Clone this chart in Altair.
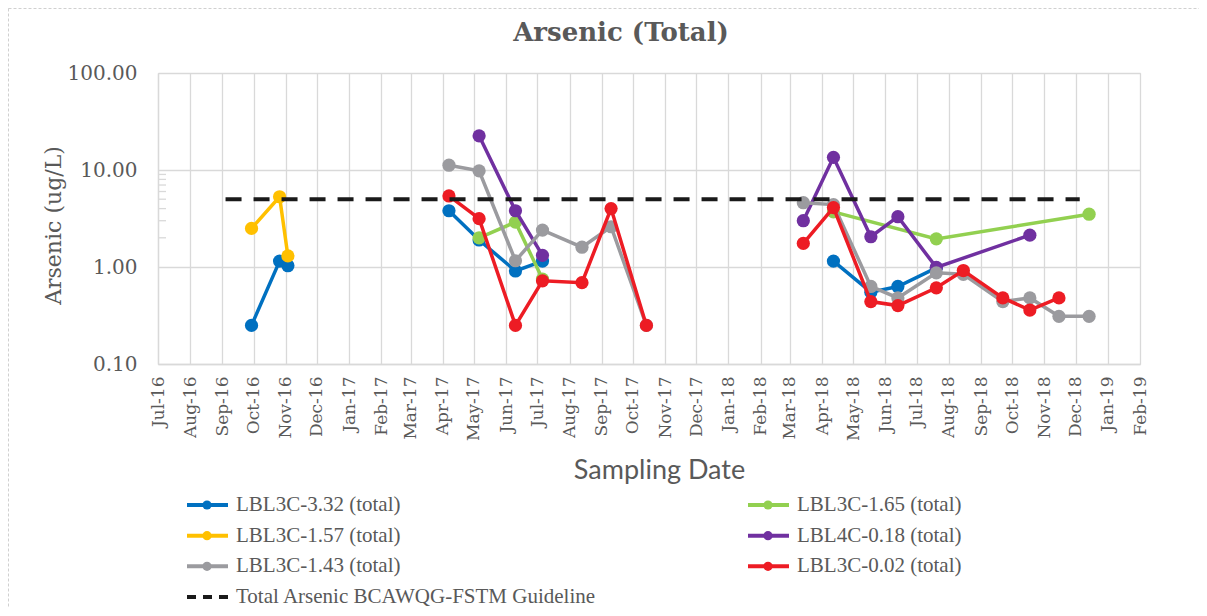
import altair as alt
import pandas as pd

# ---------------- data ----------------
names = ["LBL3C-3.32 (total)", "LBL3C-1.65 (total)", "LBL3C-1.57 (total)",
         "LBL4C-0.18 (total)", "LBL3C-1.43 (total)", "LBL3C-0.02 (total)"]
guide_name = "Total Arsenic BCAWQG-FSTM Guideline"
colors = ["#0070C0", "#92D050", "#FFC000", "#7030A0", "#9B9B9F", "#ED1C24"]

# None marks a break in the line (blank rows in the source sheet)
s332_dates = ["2016-09-29", "2016-10-26", "2016-11-03", None,
              "2017-04-07", "2017-05-06", "2017-06-10", "2017-07-06", None,
              "2018-04-12", "2018-05-18", "2018-06-13", "2018-07-20"]
s332_vals = [0.25, 1.15, 1.03, None,
             3.8, 1.9, 0.91, 1.15, None,
             1.15, 0.55, 0.63, 0.98]

s165_dates = ["2017-05-06", "2017-06-10", "2017-07-06", None,
              "2018-04-12", "2018-07-20", "2018-12-14"]
s165_vals = [2.0, 2.9, 0.75, None,
             3.7, 1.95, 3.5]

s157_dates = ["2016-09-29", "2016-10-26", "2016-11-03"]
s157_vals = [2.5, 5.3, 1.3]

s018_dates = ["2017-05-06", "2017-06-10", "2017-07-06", None,
              "2018-03-14", "2018-04-12", "2018-05-18", "2018-06-13", "2018-07-20", "2018-10-18"]
s018_vals = [22.5, 3.8, 1.32, None,
             3.0, 13.5, 2.05, 3.3, 0.99, 2.13]

s143_dates = ["2017-04-07", "2017-05-06", "2017-06-10", "2017-07-06", "2017-08-13", "2017-09-10", "2017-10-14", None,
              "2018-03-14", "2018-04-12", "2018-05-18", "2018-06-13", "2018-07-20", "2018-08-15",
              "2018-09-22", "2018-10-18", "2018-11-15", "2018-12-14"]
s143_vals = [11.2, 9.8, 1.16, 2.4, 1.6, 2.6, 0.25, None,
             4.6, 4.4, 0.63, 0.48, 0.87, 0.84,
             0.44, 0.48, 0.31, 0.31]

s002_dates = ["2017-04-07", "2017-05-06", "2017-06-10", "2017-07-06", "2017-08-13", "2017-09-10", "2017-10-14", None,
              "2018-03-14", "2018-04-12", "2018-05-18", "2018-06-13", "2018-07-20", "2018-08-15",
              "2018-09-22", "2018-10-18", "2018-11-15"]
s002_vals = [5.4, 3.15, 0.25, 0.72, 0.69, 4.0, 0.25, None,
             1.75, 4.1, 0.44, 0.40, 0.61, 0.92,
             0.48, 0.36, 0.48]

guide_dates = ["2016-09-04", "2018-12-05"]
guide_vals = [5.0, 5.0]

minor_ticks = [2, 3, 4, 5, 6, 7, 8, 9]
y_ticks = [0.1, 1, 10, 100]

series_dates = [s332_dates, s165_dates, s157_dates, s018_dates, s143_dates, s002_dates]
series_vals = [s332_vals, s165_vals, s157_vals, s018_vals, s143_vals, s002_vals]


def to_frame(name, dates, vals):
    rows, seg = [], 0
    for d, v in zip(dates, vals):
        if d is None or v is None:
            seg += 1
            continue
        rows.append({"series": name, "date": d + "T00:00:00", "value": v, "seg": seg})
    return pd.DataFrame(rows)


# ---------------- styling ----------------
GREY_TXT = "#595959"
GRID = "#d9d9d9"
SERIF = "DejaVu Serif"

x_enc = alt.X(
    "date:T",
    scale=alt.Scale(domain=[alt.DateTime(year=2016, month=7, date=1),
                            alt.DateTime(year=2019, month=2, date=1)]),
    axis=alt.Axis(
        title="Sampling Date", format="%b-%y",
        tickCount={"interval": "month", "step": 1},
        labelAngle=270, labelAlign="right", labelBaseline="middle",
        labelFont=SERIF, labelFontSize=17, labelColor=GREY_TXT, labelPadding=12,
        labelOverlap=False, labelFlush=False,
        ticks=False, grid=True, gridColor=GRID, gridWidth=1.3,
        domainColor=GRID, domainWidth=1.3,
        titleFont="Liberation Sans Narrow, Lato", titleFontSize=27, titleFontWeight="normal",
        titleColor=GREY_TXT, titleX=501, titleY=106,
        titleAlign="center", titleBaseline="middle",
    ),
)

y_scale = alt.Scale(type="log", domain=[0.1, 100])
y_axis = alt.Axis(
    title="Arsenic (ug/L)", values=y_ticks, format=".2f",
    labelFont=SERIF, labelFontSize=20, labelColor=GREY_TXT, labelPadding=21,
    ticks=False, grid=True, gridColor=GRID, gridWidth=1.3,
    domainColor=GRID, domainWidth=1.3,
    titleFont=SERIF, titleFontSize=22, titleFontWeight="normal", titleColor=GREY_TXT,
    titleAngle=270, titleX=-105, titleY=152,
    titleAlign="center", titleBaseline="middle",
)
y_enc = alt.Y("value:Q", scale=y_scale, axis=y_axis)

# ---------------- plot layers ----------------
layers = []

# faint dashed chart-area border (Excel chart frame)
frame = alt.Chart(pd.DataFrame({"k": [0]})).mark_rect(
    fill="transparent", stroke="#d0d0d0", strokeWidth=1, strokeDash=[3, 2]
).encode(x=alt.value(-149.5), x2=alt.value(1200), y=alt.value(-64.5), y2=alt.value(700))
layers.append(frame)

# minor ticks inside the 1-10 decade
minor = alt.Chart(pd.DataFrame({"value": minor_ticks})).mark_rule(
    color=GRID, strokeWidth=1.3
).encode(y=y_enc, x=alt.value(0), x2=alt.value(8))
layers.append(minor)

for name, col, ds, vs in zip(names, colors, series_dates, series_vals):
    df = to_frame(name, ds, vs)
    base = alt.Chart(df)
    layers.append(base.mark_line(strokeWidth=3.5, color=col).encode(x=x_enc, y=y_enc, detail="seg:N"))
    layers.append(base.mark_circle(size=175, opacity=1, color=col).encode(x=x_enc, y=y_enc))

gdf = to_frame(guide_name, guide_dates, guide_vals)
layers.append(alt.Chart(gdf).mark_line(strokeWidth=4, color="#1a1a1a", strokeDash=[16, 12]).encode(x=x_enc, y=y_enc))

main = alt.layer(*layers)

# ---------------- legend (two columns, Excel row-major order) ----------------
leg_names = names + [guide_name]
leg_colors = colors + ["#1a1a1a"]
leg_df = pd.DataFrame({
    "series": leg_names,
    "col": [i % 2 for i in range(len(leg_names))],
    "row": [i // 2 for i in range(len(leg_names))],
    "color": leg_colors,
})
lx = alt.X("col:Q", scale=alt.Scale(domain=[0, 1], range=[49, 610]), axis=None)
ly = alt.Y("row:Q", scale=alt.Scale(domain=[0, 3], range=[432, 524]), axis=None)
leg_base = alt.Chart(leg_df)
solid = leg_base.transform_filter(alt.datum.series != guide_name)
dashed = leg_base.transform_filter(alt.datum.series == guide_name)

leg_lines = solid.mark_rule(strokeWidth=4, xOffset=-20, x2Offset=21).encode(
    x=lx, x2="col:Q", y=ly, color=alt.Color("color:N", scale=None))
leg_pts = solid.mark_circle(size=85, opacity=1).encode(
    x=lx, y=ly, color=alt.Color("color:N", scale=None))
leg_dash = dashed.mark_rule(strokeWidth=4, xOffset=-20, x2Offset=21, strokeDash=[9, 7]).encode(
    x=lx, x2="col:Q", y=ly, color=alt.Color("color:N", scale=None))
leg_txt = leg_base.mark_text(align="left", baseline="middle", dx=29,
                             font="Liberation Serif", fontSize=21, color=GREY_TXT).encode(
    x=lx, y=ly, text="series:N")

legend = alt.layer(leg_lines, leg_pts, leg_dash, leg_txt)

chart = alt.layer(main, legend).resolve_scale(x="independent", y="independent").properties(
    width=982, height=291,
    title=alt.Title("Arsenic (Total)", font=SERIF, fontSize=26, fontWeight="bold",
                    color=GREY_TXT, anchor="middle", frame="group", dx=-28, offset=0, dy=38),
    autosize=alt.AutoSizeParams(type="none"),
    padding={"left": 150, "top": 65, "right": 59, "bottom": 244},
).configure_view(stroke=GRID, strokeWidth=1.3).configure(background="white")

chart.save("out.html", embed_options={"renderer": "svg", "actions": False})
